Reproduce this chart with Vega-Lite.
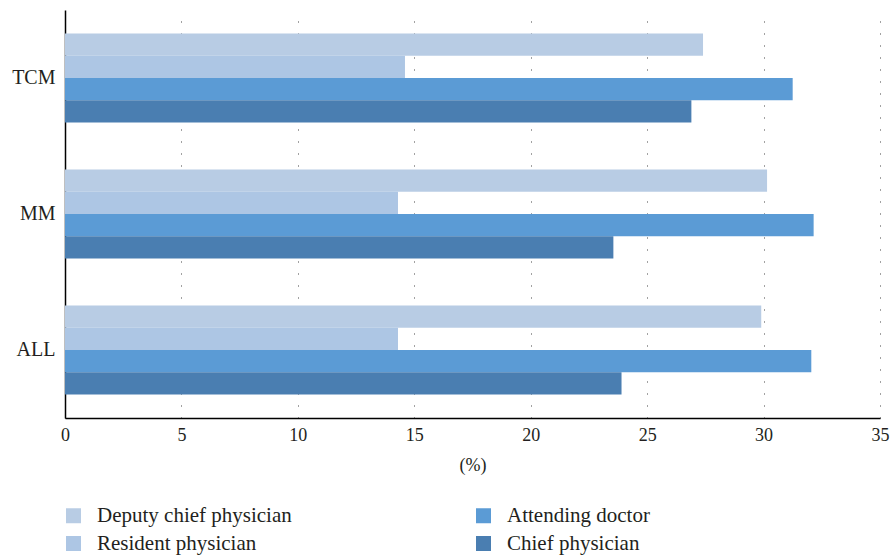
{
  "$schema": "https://vega.github.io/schema/vega-lite/v6.json",
  "width": 815,
  "height": 408,
  "autosize": {"type": "none"},
  "padding": {"left": 65, "top": 10, "right": 12, "bottom": 139},
  "background": "white",
  "config": {
    "view": {"stroke": null},
    "font": "Liberation Serif"
  },
  "data": {
    "values": [
      {"group": "TCM", "title": "Deputy chief physician", "value": 27.4},
      {"group": "TCM", "title": "Resident physician", "value": 14.6},
      {"group": "TCM", "title": "Attending doctor", "value": 31.25},
      {"group": "TCM", "title": "Chief physician", "value": 26.9},
      {"group": "MM", "title": "Deputy chief physician", "value": 30.15},
      {"group": "MM", "title": "Resident physician", "value": 14.3},
      {"group": "MM", "title": "Attending doctor", "value": 32.15},
      {"group": "MM", "title": "Chief physician", "value": 23.55},
      {"group": "ALL", "title": "Deputy chief physician", "value": 29.9},
      {"group": "ALL", "title": "Resident physician", "value": 14.3},
      {"group": "ALL", "title": "Attending doctor", "value": 32.05},
      {"group": "ALL", "title": "Chief physician", "value": 23.9}
    ]
  },
  "mark": {"type": "bar"},
  "encoding": {
    "y": {
      "field": "group",
      "type": "nominal",
      "sort": ["TCM", "MM", "ALL"],
      "scale": {"paddingInner": 0.345, "paddingOuter": 0.172},
      "axis": {
        "title": null,
        "ticks": false,
        "domainColor": "#000000",
        "domainWidth": 1.5,
        "labelFont": "Liberation Serif",
        "labelFontSize": 20,
        "labelColor": "#231f20",
        "labelPadding": 10
      }
    },
    "yOffset": {
      "field": "title",
      "type": "nominal",
      "sort": ["Deputy chief physician", "Resident physician", "Attending doctor", "Chief physician"],
      "scale": {"paddingInner": 0, "paddingOuter": 0}
    },
    "x": {
      "field": "value",
      "type": "quantitative",
      "scale": {"domain": [0, 35], "nice": false},
      "axis": {
        "title": "(%)",
        "values": [0, 5, 10, 15, 20, 25, 30, 35],
        "ticks": false,
        "domainColor": "#000000",
        "domainWidth": 1.5,
        "grid": true,
        "gridColor": "#444444",
        "gridDash": [1, 11],
        "gridWidth": 1,
        "labelFlush": false,
        "labelFont": "Liberation Serif",
        "labelFontSize": 18,
        "labelColor": "#231f20",
        "labelPadding": 8,
        "titleFont": "Liberation Serif",
        "titleFontSize": 18,
        "titleFontWeight": "normal",
        "titleColor": "#231f20",
        "titlePadding": 12
      }
    },
    "color": {
      "field": "title",
      "type": "nominal",
      "scale": {
        "domain": ["Deputy chief physician", "Attending doctor", "Resident physician", "Chief physician"],
        "range": ["#b8cce4", "#5b9bd5", "#adc6e4", "#4a7eb1"]
      },
      "legend": {
        "title": null,
        "orient": "none",
        "legendX": -2,
        "legendY": 495,
        "direction": "horizontal",
        "columns": 2,
        "columnPadding": 181,
        "rowPadding": 6,
        "symbolType": "square",
        "symbolSize": 225,
        "symbolStrokeWidth": 0,
        "labelLimit": 400,
        "labelFont": "Liberation Serif",
        "labelFontSize": 21,
        "labelColor": "#231f20",
        "labelOffset": 13
      }
    }
  }
}
